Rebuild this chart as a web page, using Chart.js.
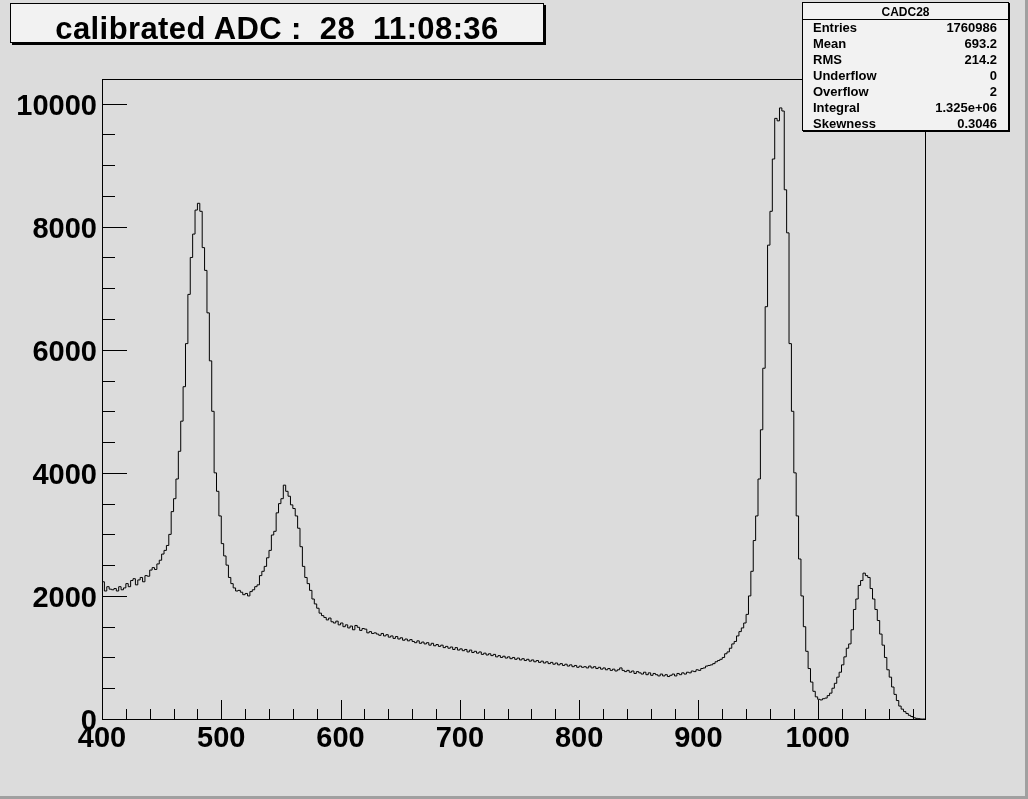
<!DOCTYPE html>
<html>
<head>
<meta charset="utf-8">
<script src="https://cdn.jsdelivr.net/npm/chart.js@4.4.1/dist/chart.umd.min.js"></script>
<style>
  body { margin: 0; background: #dcdcdc; overflow: hidden; }
  #wrap { position: relative; width: 1028px; height: 799px; font-family: "Liberation Sans", Arial, sans-serif; font-weight: bold; color: #000; }
  #c { position: absolute; left: 0; top: 0; }
  #bevel { position: absolute; left: 0; top: 0; width: 1028px; height: 799px; box-sizing: border-box;
           border-right: 3px solid #a0a0a0; border-bottom: 3px solid #a0a0a0; pointer-events: none; }
  #title { position: absolute; left: 10px; top: 3px; width: 534px; height: 40px; box-sizing: border-box;
           border: 1px solid #000; box-shadow: 2px 2px 0 #000; background: #f2f2f2;
           font-size: 31px; letter-spacing: 0.4px; line-height: 49px; text-align: center; white-space: pre; }
  #stats { position: absolute; left: 802px; top: 2px; width: 207px; height: 129px; box-sizing: border-box;
           border: 1px solid #000; box-shadow: 1px 1px 0 #000; background: #f2f2f2; font-size: 13px; }
  #stats .head { position: absolute; left: 0; right: 0; top: 0; height: 16px; line-height: 18px; text-align: center;
                 font-size: 12px; border-bottom: 1px solid #000; }
  #stats .row { position: absolute; left: 10px; right: 11px; height: 16px; line-height: 16px; }
  #stats .row span:last-child { position: absolute; right: 0; }
</style>
</head>
<body>
<div id="wrap">
  <canvas id="c" width="1028" height="799"></canvas>
  <div id="title"></div>
  <div id="stats"></div>
  <div id="bevel"></div>
</div>
<script>
// histogram: 2-unit bins starting at 400
var binStart = 400;
var binWidth = 2;
var counts = [
  2200,
  2230, 2080, 2150, 2110, 2100, 2120, 2080, 2150, 2100, 2130,
  2200, 2150, 2250, 2280, 2180, 2260, 2300, 2230, 2330, 2320,
  2420, 2460, 2430, 2520, 2580, 2680, 2740, 2820, 3000, 3370,
  3580, 3900, 4350, 4840, 5400, 6100, 6900, 7500, 7880, 8270,
  8380, 8250, 7660, 7290, 6600, 5820, 5000, 4000, 3700, 3300,
  2850, 2650, 2500, 2300, 2200, 2130, 2080, 2090, 2060, 2020,
  2040, 2000, 2070, 2100, 2150, 2180, 2330, 2400, 2480, 2620,
  2740, 2990, 3050, 3350, 3500, 3580, 3800, 3700, 3620, 3480,
  3420, 3300, 3100, 2800, 2480, 2300, 2200, 2090, 1950, 1870,
  1800, 1720, 1680, 1650, 1610, 1640, 1580, 1560, 1590, 1530,
  1560, 1500, 1530, 1480, 1510, 1450, 1520, 1490, 1440, 1470,
  1460, 1400, 1420, 1390, 1400, 1380, 1360, 1390, 1350, 1370,
  1330, 1350, 1310, 1340, 1300, 1320, 1280, 1300, 1270, 1290,
  1260, 1240, 1270, 1230, 1250, 1220, 1240, 1200, 1230, 1190,
  1210, 1180, 1200, 1160, 1180, 1150, 1170, 1130, 1160, 1120,
  1140, 1110, 1130, 1090, 1120, 1080, 1100, 1070, 1090, 1050,
  1070, 1040, 1060, 1030, 1050, 1010, 1030, 1000, 1020, 990,
  1010, 980, 1000, 970, 990, 960, 980, 950, 970, 940,
  960, 930, 950, 920, 940, 910, 930, 900, 920, 890,
  910, 880, 900, 870, 890, 860, 880, 850, 870, 840,
  860, 840, 850, 830, 860, 830, 850, 820, 840, 810,
  830, 800, 820, 790, 810, 780, 800, 830, 790, 770,
  790, 760, 780, 740, 770, 750, 730, 760, 720, 750,
  710, 740, 720, 700, 730, 700, 720, 690, 710, 730,
  700, 740, 720, 750, 730, 760, 750, 780, 770, 800,
  790, 820, 830, 860, 870, 880, 900, 930, 950, 970,
  1000, 1060, 1090, 1150, 1220, 1260, 1350, 1420, 1480, 1560,
  1700, 2000, 2400, 2900, 3300, 3900, 4700, 5700, 6700, 7700,
  8250, 9100, 9760, 9720, 9930, 9880, 8600, 7900, 6100, 5000,
  4000, 3300, 2600, 2000, 1500, 1100, 820, 600, 450, 360,
  320, 310, 330, 340, 380, 420, 500, 580, 680, 760,
  880, 1010, 1150, 1220, 1450, 1780, 1950, 2170, 2250, 2370,
  2330, 2300, 2120, 1950, 1780, 1600, 1380, 1200, 1000, 800,
  680, 520, 400, 300, 210, 160, 120, 90, 60, 40,
  20, 10, 5, 0
];

var xMin = 400, xMax = 1090;
var yMin = 0, yMax = 10400;
var xTicks = [400, 500, 600, 700, 800, 900, 1000];
var yTicks = [0, 2000, 4000, 6000, 8000, 10000];
var xMinorStep = 20, yMinorStep = 500;

var titleText = 'calibrated ADC :  28  11:08:36';
var statsName = 'CADC28';
var statLabels = ['Entries', 'Mean', 'RMS', 'Underflow', 'Overflow', 'Integral', 'Skewness'];
var statValues = ['1760986', '693.2', '214.2', '0', '2', '1.325e+06', '0.3046'];

// step points at bin edges, plus the closing edge
var points = counts.map(function (v, i) { return { x: binStart + i * binWidth, y: v }; });
points.push({ x: binStart + counts.length * binWidth, y: counts[counts.length - 1] });

document.getElementById('title').textContent = titleText;
var stats = document.getElementById('stats');
var head = document.createElement('div');
head.className = 'head';
head.textContent = statsName;
stats.appendChild(head);
statLabels.forEach(function (name, i) {
  var row = document.createElement('div');
  row.className = 'row';
  row.style.top = (17 + i * 16) + 'px';
  row.innerHTML = '<span></span><span></span>';
  row.children[0].textContent = name;
  row.children[1].textContent = statValues[i];
  stats.appendChild(row);
});

// ROOT style frame with inside tick marks
var rootFrame = {
  id: 'rootFrame',
  afterDatasetsDraw: function (chart) {
    var ctx = chart.ctx, a = chart.chartArea, x = chart.scales.x, y = chart.scales.y;
    ctx.save();
    ctx.strokeStyle = '#000';
    ctx.lineWidth = 1;
    ctx.beginPath();
    for (var v = yMin; v <= yMax; v += yMinorStep) {
      var py = Math.round(y.getPixelForValue(v)) + 0.5;
      var len = yTicks.indexOf(v) >= 0 ? 25 : 13;
      ctx.moveTo(a.left, py);
      ctx.lineTo(a.left + len, py);
    }
    for (var u = xMin; u <= xMax; u += xMinorStep) {
      var px = Math.round(x.getPixelForValue(u)) + 0.5;
      var l2 = xTicks.indexOf(u) >= 0 ? 19 : 10;
      ctx.moveTo(px, a.bottom);
      ctx.lineTo(px, a.bottom - l2);
    }
    ctx.stroke();
    ctx.strokeRect(Math.round(a.left) + 0.5, Math.round(a.top) + 0.5,
                   Math.round(a.right - a.left), Math.round(a.bottom - a.top));
    ctx.restore();
  }
};

var tickFont = { family: '"Liberation Sans", Arial, sans-serif', size: 29, weight: 'bold', lineHeight: 1.2 };

new Chart(document.getElementById('c'), {
  type: 'line',
  data: {
    datasets: [{
      data: points,
      stepped: 'after',
      borderColor: '#000',
      borderWidth: 1,
      pointRadius: 0,
      fill: false
    }]
  },
  options: {
    responsive: false,
    animation: false,
    layout: { padding: { left: 0, top: 79, right: 103, bottom: 0 } },
    plugins: { legend: { display: false }, tooltip: { enabled: false } },
    scales: {
      x: {
        type: 'linear',
        min: xMin,
        max: xMax,
        grid: { display: false, drawTicks: false },
        border: { display: false },
        afterFit: function (s) { s.height = 80; },
        afterBuildTicks: function (s) { s.ticks = xTicks.map(function (v) { return { value: v }; }); },
        ticks: { color: '#000', font: tickFont, padding: 3, maxRotation: 0, autoSkip: false,
                 callback: function (v) { return String(v); } }
      },
      y: {
        type: 'linear',
        min: yMin,
        max: yMax,
        grid: { display: false, drawTicks: false },
        border: { display: false },
        afterFit: function (s) { s.width = 102; },
        afterBuildTicks: function (s) { s.ticks = yTicks.map(function (v) { return { value: v }; }); },
        ticks: { color: '#000', font: tickFont, padding: 5, labelOffset: 3,
                 callback: function (v) { return String(v); } }
      }
    }
  },
  plugins: [rootFrame]
});
</script>
</body>
</html>
